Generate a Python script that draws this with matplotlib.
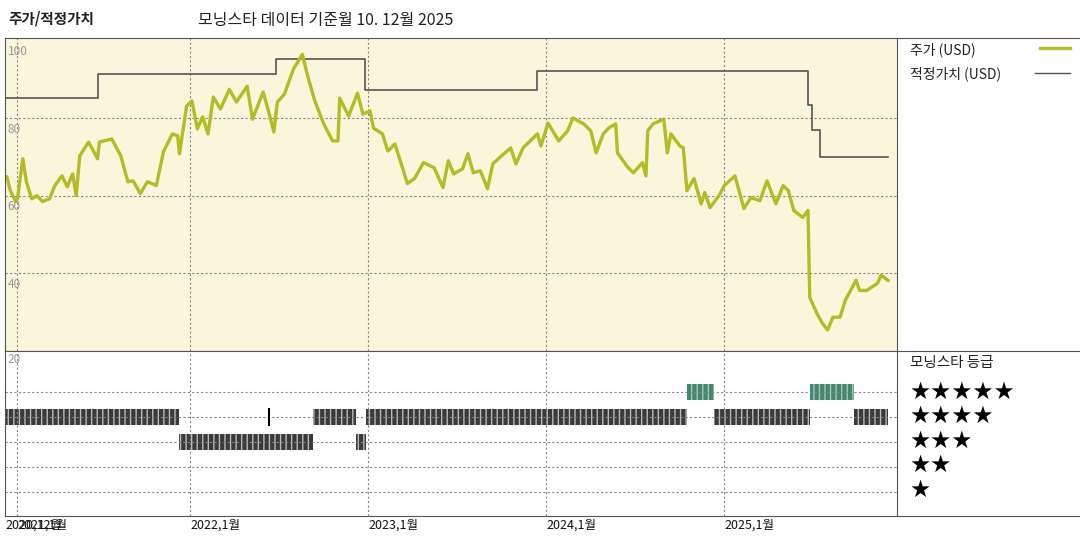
import matplotlib
matplotlib.use("Agg")
import matplotlib.pyplot as plt
from matplotlib.patches import Rectangle
from matplotlib.lines import Line2D

plt.rcParams['font.family'] = ['Noto Sans CJK KR', 'DejaVu Sans']

price_t = [2020.95,2020.97,2020.99,2021.02,2021.03,2021.06,2021.08,2021.11,2021.14,2021.17,2021.21,2021.24,
 2021.28,2021.31,2021.34,2021.36,2021.38,2021.43,2021.48,2021.49,2021.56,2021.61,2021.65,2021.68,2021.72,2021.76,
 2021.81,2021.85,2021.90,2021.93,2021.94,2021.98,2022.01,2022.04,2022.07,2022.10,2022.13,2022.17,2022.22,2022.26,
 2022.32,2022.35,2022.41,2022.44,2022.47,2022.49,2022.53,2022.58,2022.63,2022.66,2022.70,2022.75,2022.80,2022.83,
 2022.84,2022.89,2022.94,2022.97,2023.01,2023.03,2023.08,2023.11,2023.15,2023.18,2023.22,2023.26,2023.31,2023.37,
 2023.42,2023.45,2023.48,2023.53,2023.56,2023.59,2023.63,2023.67,2023.70,2023.75,2023.80,2023.83,2023.87,2023.91,
 2023.95,2023.97,2024.01,2024.07,2024.12,2024.15,2024.21,2024.25,2024.28,2024.32,2024.35,2024.39,2024.40,2024.46,
 2024.49,2024.54,2024.56,2024.57,2024.60,2024.66,2024.68,2024.70,2024.75,2024.77,2024.79,2024.83,2024.87,2024.89,
 2024.92,2024.97,2025.00,2025.06,2025.11,2025.15,2025.20,2025.24,2025.29,2025.33,2025.36,2025.39,2025.44,2025.47,
 2025.48,2025.52,2025.55,2025.58,2025.61,2025.65,2025.68,2025.74,2025.76,2025.80,2025.86,2025.88,2025.92]
price_v = [63.6,64.9,61.3,58.5,59.2,69.5,63.6,59.2,60.0,58.5,59.2,62.6,65.1,62.3,65.6,60.0,70.3,73.8,69.5,73.8,
 74.6,70.3,63.6,63.8,60.5,63.6,62.6,71.3,75.9,75.4,70.8,83.1,84.4,77.2,80.3,75.9,85.4,82.3,87.4,84.1,
 88.2,79.7,86.7,81.8,76.4,84.1,86.2,92.6,96.4,90.8,84.4,78.5,74.1,74.1,85.1,80.5,86.4,81.0,81.8,77.4,
 75.9,71.5,73.3,69.0,63.1,64.4,68.5,67.2,62.1,69.0,65.6,66.9,70.8,65.9,66.4,61.8,68.2,70.3,72.3,68.2,
 72.3,74.1,75.9,72.8,78.7,74.1,76.7,80.0,78.5,76.7,71.0,75.9,77.4,78.5,71.0,67.2,65.9,68.5,65.1,76.7,
 78.5,79.7,71.0,75.9,72.8,72.3,61.3,64.4,57.9,60.8,56.9,60.0,62.6,65.1,56.7,59.5,58.7,63.8,57.9,62.6,
 61.3,56.2,54.4,56.2,33.8,29.7,27.2,25.4,28.7,28.7,33.1,38.2,35.6,35.6,37.4,39.5,38.2]

fair_t = [2020.95,2021.48,2021.48,2022.48,2022.48,2022.98,2022.98,2023.95,2023.95,2025.47,2025.47,2025.49,2025.49,
          2025.54,2025.54,2025.92]
fair_v = [85.1,85.1,91.3,91.3,95.1,95.1,87.2,87.2,92.0,92.0,83.3,83.3,76.9,76.9,70.0,70.0]

# rating segments: (start, end, stars)
rating_start = [2020.96,2021.94,2022.44,2022.69,2022.93,2022.99,2024.79,2024.94,2025.48,2025.73]
rating_end   = [2021.94,2022.69,2022.45,2022.93,2022.99,2024.79,2024.94,2025.48,2025.73,2025.92]
rating_stars = [4,3,4,4,3,4,5,4,5,4]

xtick_pos = [2020.96, 2021.03, 2022.0, 2023.0, 2024.0, 2025.0]
xtick_lab = ['2020,12월', '2021,1월', '2022,1월', '2023,1월', '2024,1월', '2025,1월']

W, H = 1080, 540
fig = plt.figure(figsize=(10.8, 5.4), dpi=100)
def box(l, t, r, b):
    return [l / W, 1 - b / H, (r - l) / W, (b - t) / H]

x0, x1 = 2020.96, 2025.97
grid_kw = dict(color='#888888', linestyle=(0, (2, 2)), linewidth=0.8)

ax = fig.add_axes(box(5, 38, 897, 351))
ax.set_facecolor('#FAF6DC')
ax.set_xlim(x0, x1)
ax.set_ylim(20, 100.6)
for y in [40, 60, 80]:
    ax.axhline(y, **grid_kw)
for x in [2021.03, 2022, 2023, 2024, 2025]:
    ax.axvline(x, **grid_kw)
ax.plot(fair_t, fair_v, color='#555555', lw=1.2)
ax.plot(price_t, price_v, color='#B3BB25', lw=2.4)
for y, lab in [(100, '100'), (80, '80'), (60, '60'), (40, '40')]:
    ax.text(2020.975, y - 1.2, lab, color='#999999', fontsize=8.5, va='top', ha='left')
ax.set_xticks([]); ax.set_yticks([])
for s in ax.spines.values():
    s.set_color('#555555'); s.set_linewidth(0.8)

ax2 = fig.add_axes(box(5, 351, 897, 516))
ax2.set_xlim(x0, x1)
ax2.set_ylim(0.04, 6.64)
for y in [1, 2, 3, 4, 5]:
    ax2.axhline(y, **grid_kw)
for x in [2021.03, 2022, 2023, 2024, 2025]:
    ax2.axvline(x, **grid_kw)
for s0, s1, st in zip(rating_start, rating_end, rating_stars):
    col = '#3C8C6C' if st == 5 else '#3a3a3a'
    if s1 - s0 < 0.02:
        ax2.plot([s0, s0], [st - 0.32, st + 0.32], color='black', lw=1.5)
    else:
        ax2.add_patch(Rectangle((s0, st - 0.32), s1 - s0, 0.64, facecolor=col,
                                edgecolor='#bbbbbb', hatch='|||', lw=0))
ax2.text(2020.975, 6.55, '20', color='#999999', fontsize=8.5, va='top', ha='left')
ax2.set_xticks([]); ax2.set_yticks([])
for s in ax2.spines.values():
    s.set_color('#555555'); s.set_linewidth(0.8)
for p, l in zip(xtick_pos, xtick_lab):
    ax2.text(p, -0.05, l, fontsize=9, va='top', ha='left', color='#111111',
             transform=ax2.transData, clip_on=False)

# right panel
fig.add_artist(Line2D([897/W, 1], [1 - 38/H, 1 - 38/H], color='#555555', lw=0.8))
fig.add_artist(Line2D([897/W, 1], [1 - 351/H, 1 - 351/H], color='#555555', lw=0.8))
fig.add_artist(Line2D([897/W, 1], [1 - 516/H, 1 - 516/H], color='#555555', lw=0.8))
fig.text(910/W, 1 - 50/H, '주가 (USD)', fontsize=10, va='center', color='#222222')
fig.add_artist(Line2D([1040/W, 1070/W], [1 - 48/H, 1 - 48/H], color='#B3BB25', lw=2.4))
fig.text(910/W, 1 - 74/H, '적정가치 (USD)', fontsize=10, va='center', color='#222222')
fig.add_artist(Line2D([1035/W, 1070/W], [1 - 73/H, 1 - 73/H], color='#555555', lw=1.0))
fig.text(910/W, 1 - 363/H, '모닝스타 등급', fontsize=10.5, va='center', color='#222222')
for i, y in enumerate([392, 416, 441, 465, 490]):
    fig.text(909/W, 1 - y/H, '★' * (5 - i), fontsize=17, va='center', color='black',
             family='DejaVu Sans')

fig.text(8/W, 1 - 18/H, '주가/적정가치', fontsize=10.5, weight='bold', va='center', color='#222222')
fig.text(198/W, 1 - 20/H, '모닝스타 데이터 기준월 10. 12월 2025', fontsize=11.5, va='center', color='#222222')

fig.savefig('out.png', dpi=100, facecolor='white')
